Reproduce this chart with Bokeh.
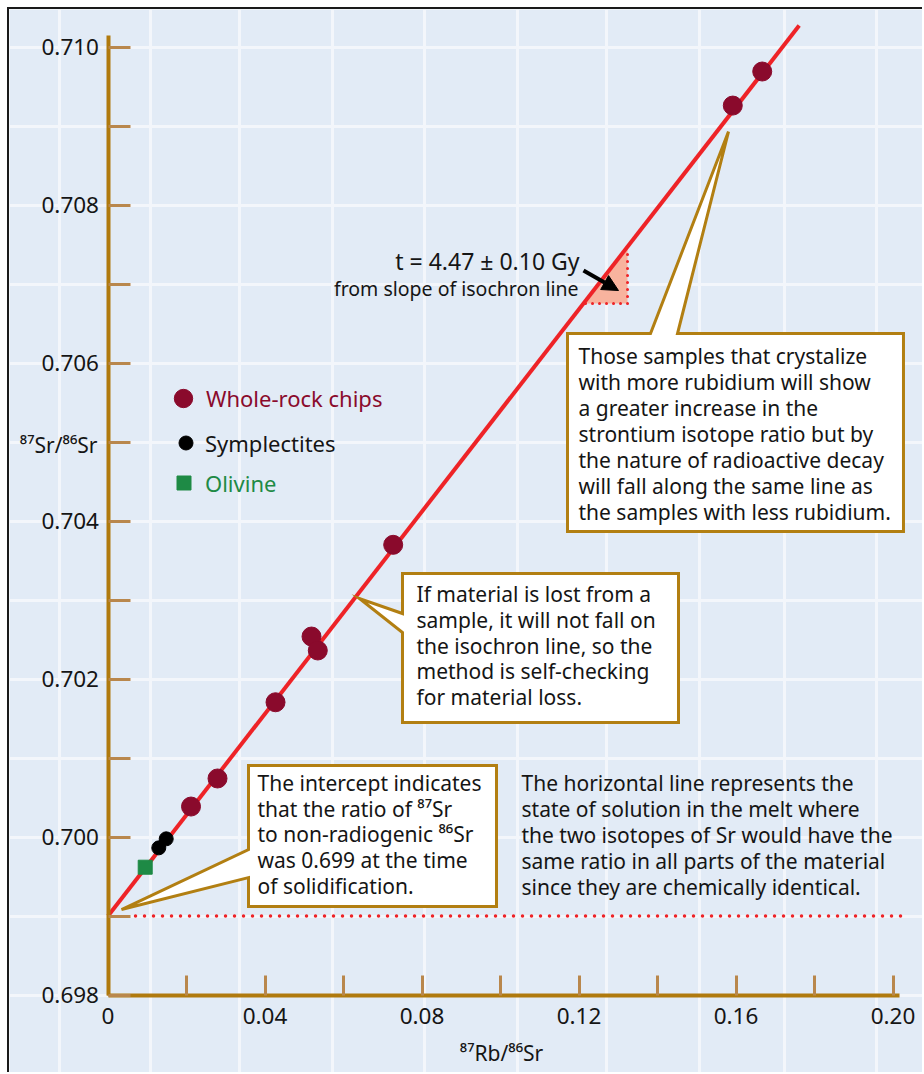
from bokeh.plotting import figure
from bokeh.models import (LinearAxis, FixedTicker, Grid, Label, Legend, LegendItem,
                          Arrow, NormalHead, Range1d, NumeralTickFormatter)
from bokeh.embed import file_html
from bokeh.resources import INLINE

# ---------------- data ----------------
whole_rock_x = [0.02115, 0.02790, 0.04268, 0.05185, 0.05345, 0.07266, 0.15918, 0.16668]
whole_rock_y = [0.700386, 0.700741, 0.701706, 0.702538, 0.702361, 0.703699, 0.709259, 0.709690]
symplectite_x = [0.01294, 0.01483]
symplectite_y = [0.699863, 0.699977]
olivine_x = [0.00948]
olivine_y = [0.699618]
isochron_x = [0.0, 0.17610]
isochron_y = [0.6990, 0.710272]
initial_ratio = 0.699

y_major_ticks = [0.698, 0.700, 0.702, 0.704, 0.706, 0.708, 0.710]
y_minor_ticks = [0.699, 0.701, 0.703, 0.705, 0.707, 0.709]
x_major_ticks = [0.0, 0.04, 0.08, 0.12, 0.16, 0.20]
x_tick_labels = ["0", "0.04", "0.08", "0.12", "0.16", "0.20"]
x_minor_ticks = [0.02, 0.06, 0.10, 0.14, 0.18]

# ---------------- style ----------------
FONT = "Noto Sans"
BG = "#E2EBF6"
GRIDC = "#F3F6FB"
AXISC = "#B07A0E"
TICKC = "#B9874C"
BOXC = "#B27F12"
RED = "#EE2327"
WINE = "#8A0A2C"
GREEN = "#1E8A45"
TXT = "#151515"

W, H = 915, 1065
p = figure(width=W, height=H, output_backend="svg", toolbar_location=None,
           x_axis_type=None, y_axis_type=None,
           x_range=Range1d(-0.025096, 0.208025), y_range=Range1d(0.696994, 0.710475),
           background_fill_color=BG, border_fill_color=BG, min_border=0)
p.outline_line_color = None
p.styles = {"margin-left": "7px", "margin-top": "7px",
            "border-left": "2px solid #1a1a1a", "border-top": "2px solid #1a1a1a"}

# graph-paper background grid
grid_x = [-0.01236, 0.01083, 0.03350, 0.05720, 0.08064, 0.10433, 0.12701, 0.15070, 0.17236, 0.19580]
grid_y = [0.698 + 0.001 * i for i in range(13)]
p.add_layout(Grid(dimension=0, ticker=FixedTicker(ticks=grid_x), grid_line_color=GRIDC,
                  grid_line_width=3))
p.add_layout(Grid(dimension=1, ticker=FixedTicker(ticks=grid_y), grid_line_color=GRIDC,
                  grid_line_width=3))

# axes pinned inside the frame
yax = LinearAxis(fixed_location=0.0, bounds=(0.698, 0.710148),
                 ticker=FixedTicker(ticks=y_major_ticks, minor_ticks=y_minor_ticks),
                 formatter=NumeralTickFormatter(format="0.000"))
xax = LinearAxis(fixed_location=0.698, bounds=(0.0, 0.20166),
                 ticker=FixedTicker(ticks=x_major_ticks, minor_ticks=x_minor_ticks),
                 major_label_overrides=dict(zip(x_major_ticks, x_tick_labels)))
for ax in (yax, xax):
    ax.axis_line_color = AXISC
    ax.axis_line_width = 4
    ax.major_tick_line_color = TICKC
    ax.minor_tick_line_color = TICKC
    ax.major_tick_line_width = 3
    ax.minor_tick_line_width = 3
    ax.major_tick_out = 0
    ax.minor_tick_out = 0
    ax.major_label_text_font = FONT
    ax.major_label_text_font_size = "22.5px"
    ax.major_label_text_color = TXT
yax.major_label_standoff = 9
xax.major_label_standoff = 13
yax.major_tick_in = 22
yax.minor_tick_in = 22
xax.major_tick_in = 20
xax.minor_tick_in = 20
p.add_layout(yax, "left")
p.add_layout(xax, "below")

# axis titles
p.add_layout(Label(x=-0.00268, y=0.704968, text="⁸⁷Sr/⁸⁶Sr", text_align="right",
                   text_baseline="middle", text_font=FONT, text_font_size="21px",
                   text_color=TXT))
p.add_layout(Label(x=0.10025, y=0.697272, text="⁸⁷Rb/⁸⁶Sr", text_align="center",
                   text_baseline="middle", text_font=FONT, text_font_size="21px",
                   text_color=TXT))

# horizontal initial-ratio line (dotted)
p.line([0.00701, 0.20267], [initial_ratio, initial_ratio], line_color=RED, line_width=3.5,
       line_dash="0 9", line_cap="round")

# slope triangle
tri_x = [0.12166, 0.13236, 0.13236]
tri_y = [0.706753, 0.706753, 0.707437]
p.patch(tri_x, tri_y, fill_color="#F8B39E", line_color=None)
p.line([0.12166, 0.13236, 0.13236], [0.706753, 0.706753, 0.707437], line_color=RED,
       line_width=3, line_dash="0 7", line_cap="round")

# isochron
p.line(isochron_x, isochron_y, line_color=RED, line_width=4)

# callouts
callout_xs = [
    [0.11707, 0.11707, 0.13822, 0.15809, 0.14510, 0.20267, 0.20267],
    [0.07503, 0.14535, 0.14535, 0.07503, 0.07503, 0.06408, 0.07503],
    [0.03580, 0.09898, 0.09898, 0.03580, 0.03580, 0.00344, 0.03580],
]
callout_ys = [
    [0.703867, 0.706373, 0.706373, 0.708930, 0.706373, 0.706373, 0.703867],
    [0.703335, 0.703335, 0.701449, 0.701449, 0.702589, 0.703019, 0.702829],
    [0.700905, 0.700905, 0.699120, 0.699120, 0.699487, 0.699082, 0.699842],
]
p.patches(callout_xs, callout_ys, fill_color="white", line_color=BOXC, line_width=3,
          line_join="miter")

# data points
r_wr = p.scatter(whole_rock_x, whole_rock_y, size=19, marker="circle", fill_color=WINE,
                 line_color=WINE)
r_sy = p.scatter(symplectite_x, symplectite_y, size=14, marker="circle", fill_color="black",
                 line_color="black")
r_ol = p.scatter(olivine_x, olivine_y, size=14, marker="square", fill_color=GREEN,
                 line_color=GREEN)

# legends (one per entry so each label keeps its colour)
def add_legend(label, rend, color, gw, gh, standoff, loc):
    lg = Legend(items=[LegendItem(label=label, renderers=[rend])], location=loc,
                glyph_width=gw, glyph_height=gh, label_standoff=standoff,
                padding=0, margin=0, spacing=0, border_line_alpha=0,
                background_fill_alpha=0, label_text_font=FONT,
                label_text_font_size="22px", label_text_color=color)
    p.add_layout(lg)

add_legend("Whole-rock chips", r_wr, WINE, 46, 48, 0, (151, 652))
add_legend("Symplectites", r_sy, TXT, 35, 35, 2, (159, 614))
add_legend("Olivine", r_ol, GREEN, 35, 35, 4, (157, 574))

# slope annotation
p.add_layout(Arrow(x_start=0.12115, y_start=0.707171, x_end=0.13006, y_end=0.706918,
                   line_color="black", line_width=4,
                   end=NormalHead(size=16, fill_color="black", line_color="black")))
p.add_layout(Label(x=0.12013, y=0.707297, text="t = 4.47 ± 0.10 Gy", text_align="right",
                   text_baseline="middle", text_font=FONT, text_font_size="23px",
                   text_color=TXT))
p.add_layout(Label(x=0.11987, y=0.706943, text="from slope of isochron line",
                   text_align="right", text_baseline="middle", text_font=FONT,
                   text_font_size="19.5px", text_color=TXT))

def block(x, y, txt):
    p.add_layout(Label(x=x, y=y, text=txt, text_align="left", text_baseline="middle",
                       text_font=FONT, text_font_size="21px", text_color=TXT,
                       text_line_height=0.927))

block(0.11987, 0.705101, "Those samples that crystalize\nwith more rubidium will show\n"
      "a greater increase in the\nstrontium isotope ratio but by\n"
      "the nature of radioactive decay\nwill fall along the same line as\n"
      "the samples with less rubidium.")
block(0.07860, 0.702424, "If material is lost from a\nsample, it will not fall on\n"
      "the isochron line, so the\nmethod is self-checking\nfor material loss.")
block(0.03809, 0.700032, "The intercept indicates\nthat the ratio of ⁸⁷Sr\n"
      "to non-radiogenic ⁸⁶Sr\nwas 0.699 at the time\nof solidification.")
block(0.10535, 0.700025, "The horizontal line represents the\nstate of solution in the melt where\n"
      "the two isotopes of Sr would have the\nsame ratio in all parts of the material\n"
      "since they are chemically identical.")

open("out.html", "w").write(file_html(p, INLINE))
